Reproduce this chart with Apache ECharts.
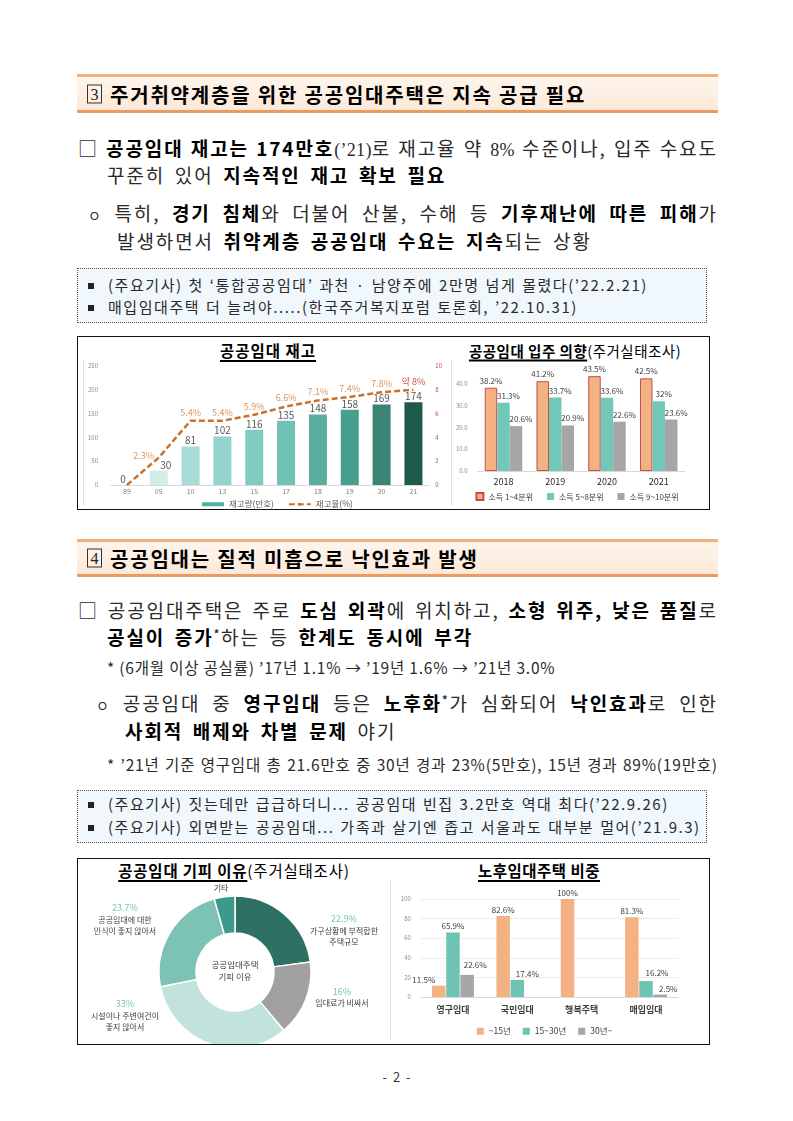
<!DOCTYPE html>
<html><head><meta charset="utf-8">
<script src="https://cdn.jsdelivr.net/npm/echarts@6/dist/echarts.min.js"></script>
<style>
html,body{margin:0;padding:0;background:#fff;}
#page{position:relative;width:793px;height:1121px;overflow:hidden;font-family:"Noto Sans CJK KR","Noto Sans",sans-serif;color:#2a2a2a;}
.ln{position:absolute;white-space:nowrap;font-size:19px;line-height:24px;letter-spacing:1.9px;word-spacing:3.5px;}
.ln b{font-weight:700;color:#000;}
.ln i{font-style:normal;font-family:"Liberation Serif",serif;font-size:18px;letter-spacing:0.3px;}
.ln em{font-style:normal;font-size:14px;}
.ln sup{font-size:11px;line-height:0;font-weight:700;}
.j{display:flex;justify-content:space-between;}
.st{font-size:15.5px;line-height:20px;letter-spacing:0.8px;word-spacing:0;}
.sm{font-size:15px;line-height:20px;letter-spacing:1.55px;word-spacing:1px;}
.sq{display:inline-block;width:6px;height:6px;background:#222;vertical-align:middle;margin:-2px 14px 0 1px;}
.hdr{position:absolute;left:77px;width:641px;box-sizing:border-box;border-top:3px solid #f4b07c;border-bottom:3px solid #ec9b5e;background:linear-gradient(#fef5ec,#fde9d9);}
.hdr .num{position:absolute;left:10px;top:50%;transform:translateY(-50%);width:13px;height:17px;border:1px solid #333;font-family:"Liberation Serif",serif;font-size:16px;line-height:17px;text-align:center;color:#222;}
.hdr .ht{position:absolute;left:33px;top:50%;transform:translateY(-50%);font-size:20px;font-weight:700;letter-spacing:1.8px;white-space:nowrap;color:#000;}
.box{position:absolute;left:77px;width:630px;box-sizing:border-box;border:1px dotted #555;background:#f0f8fd;}
.cbox{position:absolute;left:77px;width:633px;box-sizing:border-box;border:1px solid #111;}
.ttl{position:absolute;transform:translate(-50%,-50%);white-space:nowrap;font-weight:400;color:#000;}
.ttl .u{font-weight:700;text-decoration:underline;text-underline-offset:3px;text-decoration-thickness:1.5px;}
.ch{position:absolute;}
.fl{position:absolute;width:1px;background:#e2e2e2;}
</style></head>
<body><div id="page">

<div class="hdr" style="top:74px;height:39px"><span class="num">3</span><span class="ht">주거취약계층을 위한 공공임대주택은 지속 공급 필요</span></div>

<div class="ln j" style="top:136px;left:78px;width:640px">□ <b>공공임대</b> <b>재고는</b> <b>174만호</b><i>(’21)</i>로 재고율 약 <i>8%</i> 수준이나, 입주 수요도</div>
<div class="ln" style="top:163px;left:107px">꾸준히 있어 <b>지속적인 재고 확보 필요</b></div>
<div class="ln j" style="top:201px;left:88px;width:630px"><em>ㅇ</em> 특히, <b>경기</b> <b>침체</b>와 더불어 산불, 수해 등 <b>기후재난에</b> <b>따른</b> <b>피해</b>가</div>
<div class="ln" style="top:229px;left:117px">발생하면서 <b>취약계층 공공임대 수요는 지속</b>되는 상황</div>

<div class="box" style="top:268px;height:55px"></div>
<div class="ln sm" style="top:275px;left:87px"><span class="sq"></span>(주요기사) 첫 ‘통합공공임대’ 과천 · 남양주에 2만명 넘게 몰렸다(’22.2.21)</div>
<div class="ln sm" style="top:297px;left:87px"><span class="sq"></span>매입임대주택 더 늘려야.....(한국주거복지포럼 토론회, ’22.10.31)</div>

<div class="cbox" style="top:336px;height:174px"></div>
<div class="fl" style="left:83px;top:360px;height:146px"></div>
<div class="fl" style="left:451px;top:360px;height:146px"></div>
<div class="ttl" style="left:268px;top:350px;font-size:15.5px;letter-spacing:1px"><span class="u">공공임대 재고</span></div>
<div class="ttl" style="left:575px;top:350px;font-size:14.5px;letter-spacing:0.5px"><span class="u">공공임대 입주 의향</span><span>(주거실태조사)</span></div>
<div id="c1" class="ch" style="left:78px;top:338px;width:367px;height:171px"></div>
<div id="c2" class="ch" style="left:445px;top:338px;width:264px;height:171px"></div>

<div class="hdr" style="top:539px;height:38px"><span class="num">4</span><span class="ht">공공임대는 질적 미흡으로 낙인효과 발생</span></div>

<div class="ln j" style="top:598px;left:78px;width:640px">□ 공공임대주택은 주로 <b>도심</b> <b>외곽</b>에 위치하고, <b>소형</b> <b>위주,</b> <b>낮은</b> <b>품질</b>로</div>
<div class="ln" style="top:625px;left:107px"><b>공실이 증가</b><sup>*</sup>하는 등 <b>한계도 동시에 부각</b></div>
<div class="ln st" style="top:657px;left:107px">* (6개월 이상 공실률) ’17년 1.1% → ’19년 1.6% → ’21년 3.0%</div>
<div class="ln j" style="top:691px;left:96px;width:622px"><em>ㅇ</em> 공공임대 중 <b>영구임대</b> 등은 <b>노후화</b><sup>*</sup>가 심화되어 <b>낙인효과</b>로 인한</div>
<div class="ln" style="top:719px;left:125px"><b>사회적 배제와 차별 문제</b> 야기</div>
<div class="ln st j" style="top:754px;left:107px;width:611px">* ’21년 기준 영구임대 총 21.6만호 중 30년 경과 23%(5만호), 15년 경과 89%(19만호)</div>

<div class="box" style="top:790px;height:53px"></div>
<div class="ln sm" style="top:794px;left:87px"><span class="sq"></span>(주요기사) 짓는데만 급급하더니... 공공임대 빈집 3.2만호 역대 최다(’22.9.26)</div>
<div class="ln sm" style="top:817px;left:87px"><span class="sq"></span>(주요기사) 외면받는 공공임대... 가족과 살기엔 좁고 서울과도 대부분 멀어(’21.9.3)</div>

<div class="cbox" style="top:858px;height:187px"></div>
<div class="fl" style="left:390px;top:880px;height:160px"></div>
<div class="ttl" style="left:234px;top:870px;font-size:15.5px;letter-spacing:0.8px"><span class="u">공공임대 기피 이유</span><span>(주거실태조사)</span></div>
<div class="ttl" style="left:539px;top:870px;font-size:15.5px;letter-spacing:0.5px"><span class="u">노후임대주택 비중</span></div>
<div id="c3" class="ch" style="left:78px;top:858px;width:302px;height:186px"></div>
<div id="c4" class="ch" style="left:380px;top:858px;width:329px;height:186px"></div>

<div style="position:absolute;left:0;width:793px;top:1067px;text-align:center;font-size:13px;word-spacing:3px;color:#333">- 2 -</div>
</div>
<script>
// ---- data ----
const stockCats = ['89','05','10','13','15','17','18','19','20','21'];
const stockValues = [0,30,81,102,116,135,148,158,169,174];
const stockRate = [0,2.3,5.4,5.4,5.9,6.6,7.1,7.4,7.8,8.0];
const stockRateLabels = ['','2.3%','5.4%','5.4%','5.9%','6.6%','7.1%','7.4%','7.8%','약 8%'];
const stockSeriesNames = ['재고량(만호)','재고율(%)'];

const intentYears = ['2018','2019','2020','2021'];
const intentLow = [38.2,41.2,43.5,42.5];
const intentMid = [31.3,33.7,33.6,32];
const intentHigh = [20.6,20.9,22.6,23.6];
const intentSeriesNames = ['소득 1~4분위','소득 5~8분위','소득 9~10분위'];

const avoidNames = ['가구상황에 부적합한\n주택규모','임대료가 비싸서','시설이나 주변여건이\n좋지 않아서','공공임대에 대한\n인식이 좋지 않아서','기타'];
const avoidValues = [22.9,16,33,23.7,4.4];
const avoidPctLabels = ['22.9%','16%','33%','23.7%',''];
const avoidCenterText = '공공임대주택\n기피 이유';

const agingTypes = ['영구임대','국민임대','행복주택','매입임대'];
const agingUnder15 = [11.5,82.6,100,81.3];
const aging15to30 = [65.9,17.4,null,16.2];
const agingOver30 = [22.6,null,null,2.5];
const agingSeriesNames = ['~15년','15~30년','30년~'];

// ---- justify full lines ----
document.querySelectorAll('.j').forEach(el=>{
  const parts = el.innerHTML.trim().split(/\s+/);
  el.innerHTML = parts.map(p=>'<span>'+p+'</span>').join('');
});

const FONT = '"Noto Sans CJK KR","Noto Sans",sans-serif';

// ---- chart 1: 공공임대 재고 ----
const stockColors = ['#d6efee','#d2ecec','#a8dbd8','#95d3ce','#80cac2','#72c1b6','#5bad9f','#4a9e8e','#398474','#1e5a4c'];
const stockBarLabelOffset = {0:[-4,0],1:[7,0]};
const stockLineLabelOffset = {1:[-15,6]};
const c1 = echarts.init(document.getElementById('c1'));
c1.setOption({
  animation:false,
  textStyle:{fontFamily:FONT},
  grid:{left:33,top:28,width:325.6,height:119},
  legend:{top:157,left:119,itemWidth:22,itemHeight:4,itemGap:14,textStyle:{fontSize:8.5,color:'#595959'},
    data:[{name:stockSeriesNames[0],icon:'rect'},{name:stockSeriesNames[1]}]},
  xAxis:{type:'category',data:stockCats,axisTick:{show:false},axisLine:{lineStyle:{color:'#d9d9d9'}},
    axisLabel:{fontSize:7,color:'#7f7f7f',margin:3}},
  yAxis:[
    {type:'value',min:0,max:250,interval:50,splitLine:{show:false},axisLine:{show:false},axisTick:{show:false},
     axisLabel:{fontSize:6,color:'#8c8c8c',margin:13}},
    {type:'value',min:0,max:10,interval:2,position:'right',splitLine:{show:false},axisLine:{show:false},axisTick:{show:false},
     axisLabel:{fontSize:6,color:'#c0504d',margin:6}}
  ],
  series:[
    {name:stockSeriesNames[0],type:'bar',barWidth:18,itemStyle:{color:'#50b0a3'},
     data:stockValues.map((v,i)=>({value:v,itemStyle:{color:stockColors[i]},label:{offset:stockBarLabelOffset[i]||[0,0]}})),
     label:{show:true,position:'top',distance:1,fontSize:10,color:'#595959'}},
    {name:stockSeriesNames[1],type:'line',yAxisIndex:1,symbol:'circle',symbolSize:0.01,
     lineStyle:{type:[6,3],width:2.5,color:'#c8722c'},itemStyle:{color:'#c8722c'},
     data:stockRate.map((v,i)=>({value:v,label:{offset:stockLineLabelOffset[i]||[0,0],color:i===stockRate.length-1?'#c9514f':'#d9975f'}})),
     label:{show:true,position:'top',distance:4,fontSize:9,formatter:p=>stockRateLabels[p.dataIndex]}}
  ]
});

// ---- chart 2: 공공임대 입주 의향 ----
const c2 = echarts.init(document.getElementById('c2'));
const intentLabel = (dx)=>({show:true,position:'top',distance:3,fontSize:8,color:'#404040',offset:[dx,0],formatter:p=>p.value+'%'});
c2.setOption({
  animation:false,
  textStyle:{fontFamily:FONT},
  grid:{left:32.6,top:24,width:207,height:109},
  legend:{top:149,left:'center',icon:'rect',itemWidth:7,itemHeight:7,itemGap:14,textStyle:{fontSize:8,color:'#404040'}},
  xAxis:{type:'category',data:intentYears,axisTick:{show:false},axisLine:{lineStyle:{color:'#d9d9d9'}},
    axisLabel:{fontSize:9,color:'#262626',margin:6}},
  yAxis:{type:'value',min:0,max:50,interval:10,splitLine:{show:false},axisLine:{show:false},
    axisLabel:{fontSize:6,color:'#8c8c8c',margin:10,showMaxLabel:false,formatter:v=>v.toFixed(1)}},
  series:[
    {name:intentSeriesNames[0],type:'bar',barWidth:12.5,barGap:'0%',data:intentLow,
     itemStyle:{color:'#f4b183',borderColor:'#c0504d',borderWidth:1},label:intentLabel(0)},
    {name:intentSeriesNames[1],type:'bar',barWidth:12.5,barGap:'0%',data:intentMid,
     itemStyle:{color:'#72c8b8'},label:intentLabel(5)},
    {name:intentSeriesNames[2],type:'bar',barWidth:12.5,barGap:'0%',data:intentHigh,
     itemStyle:{color:'#a6a6a6'},label:intentLabel(5)}
  ]
});

// ---- chart 3: 공공임대 기피 이유 ----
const avoidColors = ['#2e7164','#a0a0a0','#c2e2dc','#7cc3b5','#3b9a8a'];
const avoidLabelPos = [[266,72],[264,139],[47,157],[47,61],[143,30]];
const c3 = echarts.init(document.getElementById('c3'));
c3.setOption({
  animation:false,
  textStyle:{fontFamily:FONT},
  graphic:[{type:'text',style:{x:157,y:113,text:avoidCenterText,align:'center',verticalAlign:'middle',
    fontSize:8.5,lineHeight:12,fill:'#404040',fontFamily:FONT}}],
  series:[{
    type:'pie',center:[157,114],radius:[39,76],startAngle:90,clockwise:true,avoidLabelOverlap:false,
    itemStyle:{borderColor:'#ffffff',borderWidth:1.5},
    data:avoidValues.map((v,i)=>({value:v,name:avoidNames[i],itemStyle:{color:avoidColors[i]}})),
    label:{show:true,position:'outside',
      formatter:p=>{
        const pct = avoidPctLabels[p.dataIndex];
        const lines = avoidNames[p.dataIndex].split('\n').map(s=>'{t|'+s+'}').join('\n');
        return (pct?'{p|'+pct+'}\n':'')+lines;
      },
      rich:{p:{fontSize:9,color:'#78c4b7',lineHeight:12,align:'center'},t:{fontSize:8,color:'#404040',lineHeight:11,align:'center'}}},
    labelLine:{show:false},
    labelLayout:p=>({x:avoidLabelPos[p.dataIndex][0],y:avoidLabelPos[p.dataIndex][1],align:'center',verticalAlign:'middle'})
  }]
});

// ---- chart 4: 노후임대주택 비중 ----
const agingOffsets = [
  {0:[-15,0]},
  {1:[10,0],3:[11,-2]},
  {0:[8,-4],3:[8,0]}
];
const agingColors = ['#f4b183','#6fc3b2','#a6a6a6'];
const agingSeries = [agingUnder15,aging15to30,agingOver30];
const c4 = echarts.init(document.getElementById('c4'));
c4.setOption({
  animation:false,
  textStyle:{fontFamily:FONT},
  grid:{left:40.8,top:41,width:257.4,height:98},
  legend:{top:164,left:'center',icon:'rect',itemWidth:7,itemHeight:7,itemGap:12,textStyle:{fontSize:8.5,color:'#404040'}},
  xAxis:{type:'category',data:agingTypes,axisTick:{show:false},axisLine:{lineStyle:{color:'#d9d9d9'}},
    axisLabel:{fontSize:9,fontWeight:'bold',color:'#404040',margin:8}},
  yAxis:{type:'value',min:0,max:100,interval:20,splitLine:{lineStyle:{color:'#ececec'}},axisLine:{show:false},
    axisLabel:{fontSize:6,color:'#8c8c8c',margin:10}},
  series:agingSeries.map((arr,si)=>({
    name:agingSeriesNames[si],type:'bar',barWidth:13.5,barGap:'5%',
    itemStyle:{color:agingColors[si]},
    data:arr.map((v,i)=>v===null?null:({value:v,label:{offset:agingOffsets[si][i]||[0,0]}})),
    label:{show:true,position:'top',distance:2,fontSize:8,color:'#404040',formatter:p=>p.value+'%'}
  }))
});
</script>
</body></html>
